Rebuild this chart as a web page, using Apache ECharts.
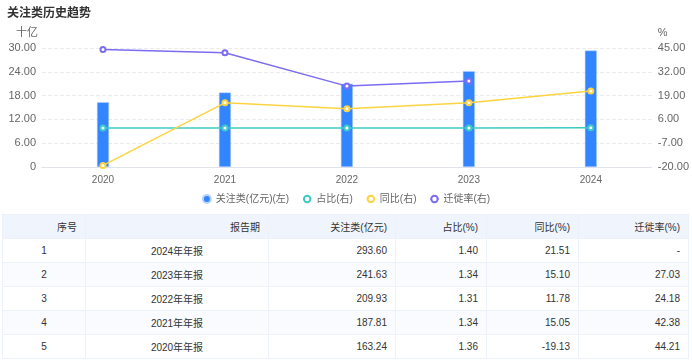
<!DOCTYPE html>
<html><head><meta charset="utf-8">
<script src="https://cdn.jsdelivr.net/npm/echarts@6/dist/echarts.min.js"></script>
<style>
html,body{margin:0;padding:0;background:#fff;width:692px;height:360px;overflow:hidden;font-family:"Liberation Sans","Noto Sans CJK SC",sans-serif;}
#chart{position:absolute;left:0;top:0;width:692px;height:212px;}
#tbl{position:absolute;left:2px;top:214px;border-collapse:collapse;table-layout:fixed;font-size:10px;color:#333;}
#tbl td,#tbl th{height:24px;padding:0 8px;border:1px solid #edf2fa;font-weight:normal;box-sizing:border-box;text-align:right;white-space:nowrap;}
#tbl th{background:#f0f5fd;}
#tbl tr.even td{background:#f9fbfe;}
#tbl td.c{text-align:center;}
</style></head>
<body>
<div id="chart"></div>
<table id="tbl"></table>
<script>
var years = ['2020','2021','2022','2023','2024'];
var amountBillion = [16.324, 18.781, 20.993, 24.163, 29.360];
var share = [1.36, 1.34, 1.31, 1.34, 1.40];
var yoy = [-19.13, 15.05, 11.78, 15.10, 21.51];
var migration = [44.21, 42.38, 24.18, 27.03, null];
var leftTicks = {min: 0, max: 30, interval: 6};
var rightTicks = {min: -20, max: 45, interval: 13};

var headers = ['序号','报告期','关注类(亿元)','占比(%)','同比(%)','迁徙率(%)'];
var colWidths = [83,183,127,91,92,110];
var periods = ['2024年年报','2023年年报','2022年年报','2021年年报','2020年年报'];
var amountYi = ['293.60','241.63','209.93','187.81','163.24'];
var shareTxt = ['1.40','1.34','1.31','1.34','1.36'];
var yoyTxt = ['21.51','15.10','11.78','15.05','-19.13'];
var migTxt = ['-','27.03','24.18','42.38','44.21'];

var chart = echarts.init(document.getElementById('chart'));
var txt = '#666';
var ff = '"Liberation Sans","Noto Sans CJK SC",sans-serif';
chart.setOption({
  animation:false,
  textStyle:{fontFamily:ff},
  title:{text:'关注类历史趋势',left:2,top:3,textStyle:{fontSize:12,fontWeight:'bold',color:'#333',fontFamily:ff}},
  grid:{left:42,right:40,top:48,bottom:45},
  legend:{left:'center',top:189,itemWidth:8,itemHeight:8,itemGap:13,textStyle:{color:txt,fontSize:10},
    data:[{name:'关注类(亿元)(左)',icon:'circle'},{name:'占比(右)'},{name:'同比(右)'},{name:'迁徙率(右)'}]},
  xAxis:{type:'category',data:years,axisTick:{show:false},
    axisLine:{lineStyle:{color:'#e0e3ea'}},axisLabel:{color:txt,fontSize:10,margin:8}},
  yAxis:[
    {type:'value',name:'十亿',nameGap:10,nameTextStyle:{color:txt,fontSize:11,align:'right',padding:[0,4,0,0]},
      min:leftTicks.min,max:leftTicks.max,interval:leftTicks.interval,
      axisLine:{show:false},axisTick:{show:false},
      axisLabel:{color:txt,fontSize:11,margin:6,formatter:function(v){return v===0?'0':v.toFixed(2);}},
      splitLine:{lineStyle:{color:'#ebebeb',type:'dashed'}}},
    {type:'value',name:'%',nameGap:10,nameTextStyle:{color:txt,fontSize:11,align:'left',padding:[0,0,0,6]},
      min:rightTicks.min,max:rightTicks.max,interval:rightTicks.interval,
      axisLine:{show:false},axisTick:{show:false},
      axisLabel:{color:txt,fontSize:11,margin:6,formatter:function(v){return v.toFixed(2);}},
      splitLine:{show:false}}
  ],
  series:[
    {name:'关注类(亿元)(左)',type:'bar',data:amountBillion,barWidth:12,yAxisIndex:0,
      itemStyle:{color:'#3385ff',borderColor:'#b9d3ff',borderWidth:0.5}},
    {name:'占比(右)',type:'line',data:share,yAxisIndex:1,symbol:'emptyCircle',symbolSize:5,
      itemStyle:{color:'#3ccac6'},lineStyle:{width:1.5,color:'#3ccac6'}},
    {name:'同比(右)',type:'line',data:yoy,yAxisIndex:1,symbol:'emptyCircle',symbolSize:5,
      itemStyle:{color:'#fdd43f'},lineStyle:{width:1.5,color:'#fdd43f'}},
    {name:'迁徙率(右)',type:'line',data:migration,yAxisIndex:1,symbol:'emptyCircle',symbolSize:5,
      itemStyle:{color:'#7a6cf3'},lineStyle:{width:1.5,color:'#7a6cf3'}}
  ]
});

var tbl = document.getElementById('tbl');
var cg = '<colgroup>' + colWidths.map(function(w){return '<col style="width:'+w+'px">';}).join('') + '</colgroup>';
var html = cg + '<tr>' + headers.map(function(h){return '<th>'+h+'</th>';}).join('') + '</tr>';
for (var i=0;i<periods.length;i++){
  html += '<tr class="'+(i%2===1?'even':'')+'"><td class="c">'+(i+1)+'</td><td class="c">'+periods[i]+'</td><td>'+amountYi[i]+'</td><td>'+shareTxt[i]+'</td><td>'+yoyTxt[i]+'</td><td>'+migTxt[i]+'</td></tr>';
}
tbl.innerHTML = html;
tbl.style.width = colWidths.reduce(function(a,b){return a+b;},0)+'px';
</script>
</body></html>
